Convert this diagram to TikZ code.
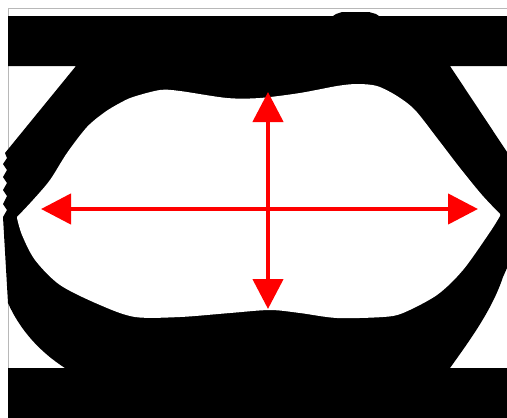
\documentclass[tikz,border=0pt]{standalone}
\usetikzlibrary{arrows.meta}
\begin{document}
\begin{tikzpicture}[>={Triangle[length=30pt,width=30pt]},x=1pt,y=-1pt]
  \tikzstyle{frame}=[draw=black!28,line width=1pt]
  \tikzstyle{trace}=[fill=black]
  \tikzstyle{opening}=[fill=white]
  \tikzstyle{measure}=[draw=red,line width=4.5pt]

  \useasboundingbox (0,0) rectangle (507,418);

  % Plot frame
  \draw[frame] (8,368) -- (8,8) -- (507,8);

  % Overlaid traces
  \fill[trace] (8,16) -- (333,16) -- (336,14) -- (342,12) -- (369,12) -- (376,14) -- (379,16) -- (507,16)
    -- (507,66) -- (450,66) -- (507,152) -- (507,268) -- (503,277) .. controls (492,310) and (470,340) .. (450,368)
    -- (507,368) -- (507,418) -- (8,418) -- (8,368) -- (65,368) .. controls (40,352) and (20,330) .. (8,303)
    -- (3,217) -- (7,210) -- (3,204) -- (7,196) -- (3,190) -- (7,183) -- (3,177) -- (7,170) -- (3,164) -- (7,158)
    -- (5,153) -- (76,66) -- (8,66) -- cycle;

  % Eye opening
  \fill[opening] plot[smooth] coordinates {(17,217) (33,200) (50,180) (67,153) (87,127) (105,112) (120,103) (133,97)
      (160,90) (180,91) (227,98) (260,98) (300,93) (337,86) (357,84) (377,86) (397,96) (415,110) (437,138)
      (460,168) (482,195) (500,214)}
    -- plot[smooth] coordinates {(500,216) (490,232) (463,270) (437,295) (403,313) (383,317) (337,318) (300,313)
      (270,310) (230,313) (180,317) (135,317) (100,305) (60,285) (35,260) (22,235) (17,218)} -- cycle;

  % Eye width and height
  \coordinate (eyeleft) at (41,209);
  \coordinate (eyeright) at (478,209);
  \coordinate (eyetop) at (268,92);
  \coordinate (eyebottom) at (268,309);
  \draw[measure,<->] (eyeleft) -- (eyeright);
  \draw[measure,<->] (eyetop) -- (eyebottom);
\end{tikzpicture}
\end{document}
